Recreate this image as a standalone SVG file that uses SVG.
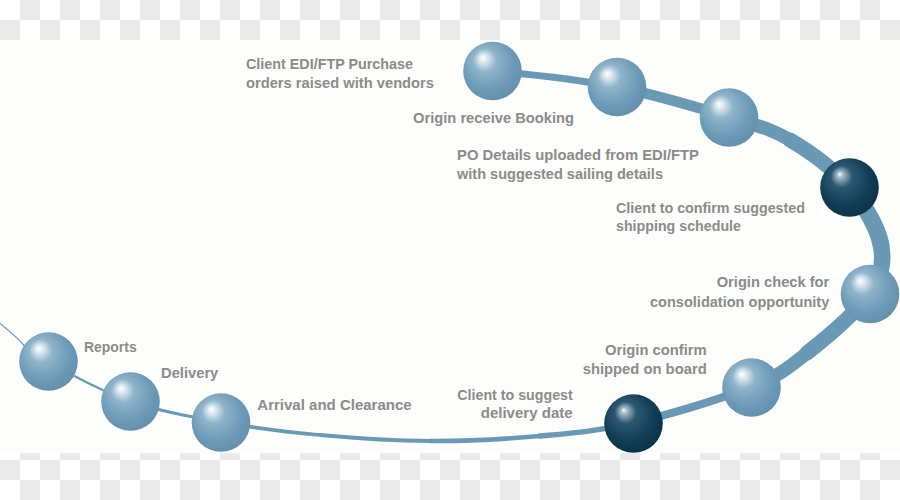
<svg xmlns="http://www.w3.org/2000/svg" width="900" height="500" viewBox="0 0 900 500">
<defs>
<pattern id="chk" width="40" height="40" patternUnits="userSpaceOnUse">
<rect width="40" height="40" fill="#ffffff"/>
<rect x="20" y="0" width="20" height="20" fill="#ebebeb"/>
<rect x="0" y="20" width="20" height="20" fill="#ebebeb"/>
</pattern>
<radialGradient id="gl" cx="0.45" cy="0.42" r="0.62" fx="0.33" fy="0.27">
<stop offset="0" stop-color="#ffffff"/>
<stop offset="0.1" stop-color="#dfeaf1"/>
<stop offset="0.32" stop-color="#8fb4ca"/>
<stop offset="0.7" stop-color="#6d9bb7"/>
<stop offset="1" stop-color="#6290ac"/>
</radialGradient>
<radialGradient id="gd" cx="0.45" cy="0.42" r="0.62" fx="0.33" fy="0.27">
<stop offset="0" stop-color="#ffffff"/>
<stop offset="0.08" stop-color="#a9bcc8"/>
<stop offset="0.3" stop-color="#2b5771"/>
<stop offset="0.7" stop-color="#113d55"/>
<stop offset="1" stop-color="#0b3147"/>
</radialGradient>
</defs>
<style>
.seg{fill:none;stroke:#6a99b5;stroke-linecap:round}
.lb{font-family:"Liberation Sans",Arial,sans-serif;font-weight:bold;font-size:15px;fill:#8b8b8b}
.bl{fill:url(#gl)}
.bd{fill:url(#gd)}
</style>
<rect x="0" y="0" width="900" height="500" fill="url(#chk)"/>
<rect x="0" y="40" width="900" height="413" fill="#fdfdfb"/>
<g id="connectors">
<path class="seg" stroke-width="1.2" stroke="#8db3c9" d="M-10,316 C5,327 16,335.7 26.3,348 L48,361"/>
<path class="seg" stroke-width="2.2" d="M48,361 C69.7,374 101.2,390.8 130,401"/>
<path class="seg" stroke-width="3" d="M130,401 C158.8,411.2 189.3,416.3 221,422"/>
<path class="seg" stroke-width="3.6" d="M221,422 C252.7,427.7 285.2,431.8 320,435"/>
<path class="seg" stroke-width="4" d="M320,435 C354.8,438.2 393.3,440.8 430,441"/>
<path class="seg" stroke-width="4.6" d="M430,441 C466.7,441.2 506.2,439 540,436"/>
<path class="seg" stroke-width="5.4" d="M540,436 C573.8,433 597.8,431.2 633,423"/>
<path class="seg" stroke-width="8" d="M633,423 C668.2,414.8 722,398.7 751,387"/>
<path class="seg" stroke-width="13.5" d="M751,387 C780,375.3 787.3,368.5 807,353"/>
<path class="seg" stroke-width="15" d="M807,353 C826.7,337.5 856.7,312 869,294"/>
<path class="seg" stroke-width="16.5" d="M869,294 C881.3,276 884.3,262.8 881,245"/>
<path class="seg" stroke-width="17" d="M881,245 C877.7,227.2 864.2,204.5 849,187"/>
<path class="seg" stroke-width="15" d="M849,187 C833.8,169.5 810,151.7 790,140"/>
<path class="seg" stroke-width="13.5" d="M790,140 C770,128.3 757.8,125.8 729,117"/>
<path class="seg" stroke-width="10.5" d="M729,117 C700.2,108.2 656.5,94.7 617,87"/>
<path class="seg" stroke-width="7" d="M617,87 C577.5,79.3 528.2,74 492,71"/>
</g>
<g id="n1"><circle class="bl" cx="492.5" cy="71" r="29.3"/>
<text class="lb" x="246" y="69" textLength="167" lengthAdjust="spacingAndGlyphs">Client EDI/FTP Purchase</text>
<text class="lb" x="246" y="88" textLength="188" lengthAdjust="spacingAndGlyphs">orders raised with vendors</text></g>
<g id="n2"><circle class="bl" cx="617" cy="87" r="29.3"/>
<text class="lb" x="413" y="123" textLength="161" lengthAdjust="spacingAndGlyphs">Origin receive Booking</text></g>
<g id="n3"><circle class="bl" cx="729" cy="117.5" r="29.3"/>
<text class="lb" x="457" y="160" textLength="242" lengthAdjust="spacingAndGlyphs">PO Details uploaded from EDI/FTP</text>
<text class="lb" x="457" y="178.5" textLength="206" lengthAdjust="spacingAndGlyphs">with suggested sailing details</text></g>
<g id="n4"><circle class="bd" cx="849.5" cy="187.5" r="29.3"/>
<text class="lb" x="616" y="212.5" textLength="189" lengthAdjust="spacingAndGlyphs">Client to confirm suggested</text>
<text class="lb" x="616" y="231" textLength="125" lengthAdjust="spacingAndGlyphs">shipping schedule</text></g>
<g id="n5"><circle class="bl" cx="870" cy="294" r="29.3"/>
<text class="lb" x="716.7" y="287.3" textLength="112.6" lengthAdjust="spacingAndGlyphs">Origin check for</text>
<text class="lb" x="650" y="306.5" textLength="179.3" lengthAdjust="spacingAndGlyphs">consolidation opportunity</text></g>
<g id="n6"><circle class="bl" cx="751.5" cy="387.5" r="29.3"/>
<text class="lb" x="605" y="355" textLength="101.7" lengthAdjust="spacingAndGlyphs">Origin confirm</text>
<text class="lb" x="582.7" y="374" textLength="124" lengthAdjust="spacingAndGlyphs">shipped on board</text></g>
<g id="n7"><circle class="bd" cx="633.5" cy="423.5" r="29.3"/>
<text class="lb" x="457.3" y="400" textLength="115.4" lengthAdjust="spacingAndGlyphs">Client to suggest</text>
<text class="lb" x="480.7" y="418.3" textLength="92" lengthAdjust="spacingAndGlyphs">delivery date</text></g>
<g id="n8"><circle class="bl" cx="221" cy="422.5" r="29.3"/>
<text class="lb" x="257.3" y="410" textLength="154.4" lengthAdjust="spacingAndGlyphs">Arrival and Clearance</text></g>
<g id="n9"><circle class="bl" cx="130.5" cy="401.5" r="29.3"/>
<text class="lb" x="161" y="378.3" textLength="57.3" lengthAdjust="spacingAndGlyphs">Delivery</text></g>
<g id="n10"><circle class="bl" cx="48.5" cy="361.5" r="29.3"/>
<text class="lb" x="84" y="352.3" textLength="52.7" lengthAdjust="spacingAndGlyphs">Reports</text></g>
</svg>
